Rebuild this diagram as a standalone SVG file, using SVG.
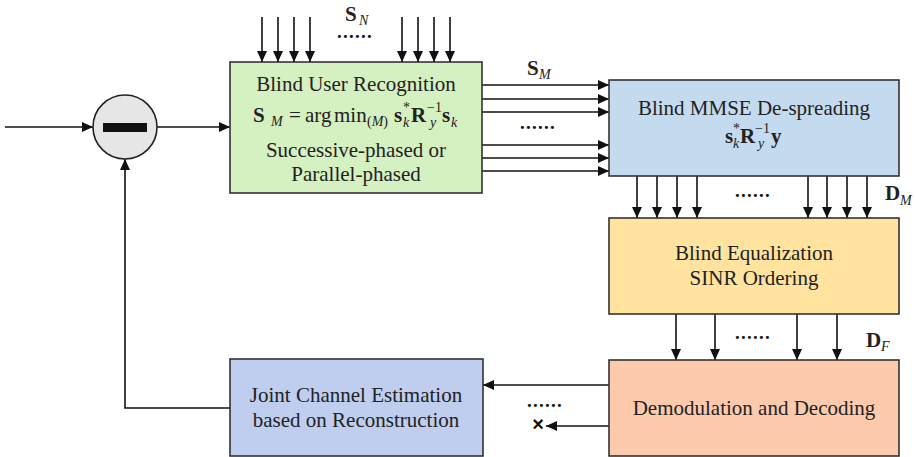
<svg xmlns="http://www.w3.org/2000/svg" width="916" height="457" viewBox="0 0 916 457" font-family="Liberation Serif, DejaVu Serif, serif">
<defs>
<marker id="ah" markerUnits="userSpaceOnUse" markerWidth="12" markerHeight="10" refX="11" refY="5" orient="auto">
<path d="M0,0 L11,5 L0,10 z" fill="#111"/>
</marker>
<style>
.box{stroke:#333;stroke-width:1.6}
.t{font-family:'Liberation Serif','DejaVu Serif',serif;font-size:21px;fill:#222}
.c{text-anchor:middle}
.b{font-weight:bold}
.i{font-style:italic;font-weight:normal}
.s{font-size:14px}
.dots{font-family:'Liberation Serif','DejaVu Serif',serif;font-size:19px;font-weight:bold;letter-spacing:1.25px;fill:#111}
.ar{stroke:#111;stroke-width:1.6;fill:none;marker-end:url(#ah)}
</style>
</defs>
<rect width="916" height="457" fill="#fff"/>

<g id="connectors">
<line class="ar" x1="5" y1="127" x2="93" y2="127"/>
<line class="ar" x1="157" y1="127" x2="230" y2="127"/>
<line class="ar" x1="262" y1="17" x2="262" y2="62"/>
<line class="ar" x1="278" y1="17" x2="278" y2="62"/>
<line class="ar" x1="294" y1="17" x2="294" y2="62"/>
<line class="ar" x1="310" y1="17" x2="310" y2="62"/>
<line class="ar" x1="402" y1="17" x2="402" y2="62"/>
<line class="ar" x1="418" y1="17" x2="418" y2="62"/>
<line class="ar" x1="434" y1="17" x2="434" y2="62"/>
<line class="ar" x1="450" y1="17" x2="450" y2="62"/>
<line class="ar" x1="482" y1="85" x2="609" y2="85"/>
<line class="ar" x1="482" y1="99" x2="609" y2="99"/>
<line class="ar" x1="482" y1="112" x2="609" y2="112"/>
<line class="ar" x1="482" y1="145" x2="609" y2="145"/>
<line class="ar" x1="482" y1="158" x2="609" y2="158"/>
<line class="ar" x1="482" y1="171" x2="609" y2="171"/>
<line class="ar" x1="637" y1="176" x2="637" y2="218"/>
<line class="ar" x1="657" y1="176" x2="657" y2="218"/>
<line class="ar" x1="677" y1="176" x2="677" y2="218"/>
<line class="ar" x1="697" y1="176" x2="697" y2="218"/>
<line class="ar" x1="808" y1="176" x2="808" y2="218"/>
<line class="ar" x1="827" y1="176" x2="827" y2="218"/>
<line class="ar" x1="847" y1="176" x2="847" y2="218"/>
<line class="ar" x1="867" y1="176" x2="867" y2="218"/>
<line class="ar" x1="676" y1="314" x2="676" y2="360"/>
<line class="ar" x1="715" y1="314" x2="715" y2="360"/>
<line class="ar" x1="797" y1="314" x2="797" y2="360"/>
<line class="ar" x1="837" y1="314" x2="837" y2="360"/>
<line class="ar" x1="609" y1="385" x2="483" y2="385"/>
<line class="ar" x1="609" y1="426" x2="546" y2="426"/>
<polyline class="ar" points="230,408 125,408 125,159"/>
</g>

<g id="labels">
<text class="t b" x="345" y="21">S<tspan class="i s" x="359" y="25">N</tspan></text>
<text class="dots" x="337" y="38">......</text>
<text class="t b" x="527" y="75">S<tspan class="i s" x="539" y="79">M</tspan></text>
<text class="dots" x="520" y="129">......</text>
<text class="dots" x="735" y="197">......</text>
<text class="t b" x="885" y="200">D<tspan class="i s" x="900" y="205">M</tspan></text>
<text class="dots" x="735" y="339">......</text>
<text class="t b" x="866" y="347">D<tspan class="i s" x="881" y="351">F</tspan></text>
<text class="dots" x="527" y="407">......</text>
<text x="538" y="431" text-anchor="middle" font-family="Liberation Sans, Arial, sans-serif" font-size="20" font-weight="bold" fill="#111">×</text>
</g>

<g id="subtractor">
<circle cx="125" cy="127" r="32" fill="#e6e6e6" stroke="#222" stroke-width="1.6"/>
<rect x="103" y="123" width="44" height="9" fill="#111"/>
</g>

<g id="blind-user-recognition">
<rect class="box" x="230" y="62" width="252" height="131" fill="#d5f0c1"/>
<text class="t c" x="356" y="91">Blind User Recognition</text>
<text class="t" x="253" y="122"><tspan class="b">S</tspan><tspan class="i s" x="271" y="126">M</tspan><tspan x="289" y="122">=</tspan><tspan x="305" y="122">arg</tspan><tspan x="334" y="122">min</tspan><tspan class="s" x="367" y="126">(</tspan><tspan class="i s">M</tspan><tspan class="s">)</tspan><tspan class="b" x="394" y="122">s</tspan><tspan class="s" x="403" y="112">*</tspan><tspan class="i s" x="403" y="127">k</tspan><tspan class="b" x="411" y="122">R</tspan><tspan class="s" x="427" y="112">−1</tspan><tspan class="i s" x="430" y="127">y</tspan><tspan class="b" x="442" y="122">s</tspan><tspan class="i s" x="451" y="127">k</tspan></text>
<text class="t c" x="356" y="157">Successive-phased or</text>
<text class="t c" x="356" y="181">Parallel-phased</text>
</g>

<g id="blind-mmse">
<rect class="box" x="609" y="80" width="290" height="96" fill="#c4dbef"/>
<text class="t c" x="754" y="115">Blind MMSE De-spreading</text>
<text class="t" x="725" y="143"><tspan class="b">s</tspan><tspan class="s" x="733" y="133">*</tspan><tspan class="i s" x="733" y="148">k</tspan><tspan class="b" x="740" y="143">R</tspan><tspan class="s" x="755" y="133">−1</tspan><tspan class="i s" x="758" y="148">y</tspan><tspan class="b" x="771" y="143">y</tspan></text>
</g>

<g id="blind-equalization">
<rect class="box" x="609" y="218" width="290" height="96" fill="#ffe39f"/>
<text class="t c" x="754" y="260">Blind Equalization</text>
<text class="t c" x="754" y="285">SINR Ordering</text>
</g>

<g id="demodulation">
<rect class="box" x="609" y="360" width="290" height="96" fill="#fdcaad"/>
<text class="t c" x="754" y="415">Demodulation and Decoding</text>
</g>

<g id="joint-channel-estimation">
<rect class="box" x="230" y="359" width="253" height="97" fill="#bfcdef"/>
<text class="t c" x="356" y="402">Joint Channel Estimation</text>
<text class="t c" x="356" y="427">based on Reconstruction</text>
</g>
</svg>
